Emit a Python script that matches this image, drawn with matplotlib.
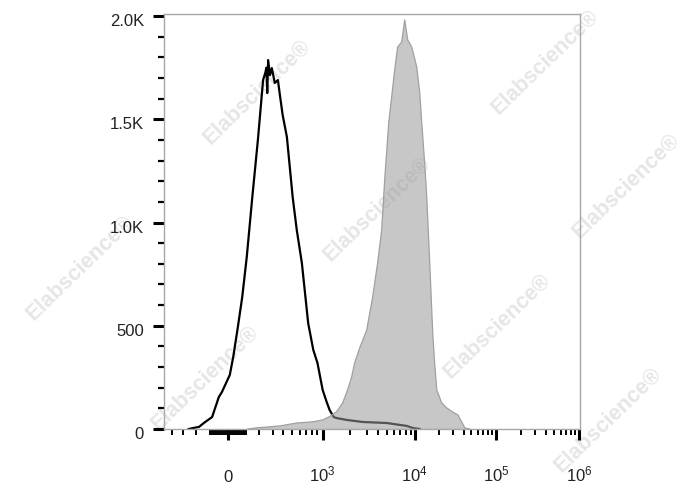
import numpy as np
import matplotlib
matplotlib.use("Agg")
import matplotlib.pyplot as plt
from matplotlib.ticker import FixedLocator, NullFormatter
from matplotlib.transforms import ScaledTranslation

# ---------------- data ----------------
black_vals = [-250, -196, -174, -137, -83, -44, -28, 11, 28, 50, 78, 107, 144, 189,
              226, 241, 250, 256, 263, 278, 293, 319, 348, 368, 397, 443, 512, 562,
              633, 735, 826, 905, 1000, 1105, 1191, 1317, 1419, 1823, 2720, 4960,
              8190, 9510, 11500]
black_counts = [0, 8, 10, 29, 58, 155, 179, 262, 349, 479, 639, 833, 1123, 1400,
                1690, 1724, 1750, 1627, 1787, 1714, 1748, 1676, 1690, 1617, 1521, 1414,
                1123, 964, 804, 513, 383, 320, 189, 131, 92, 58, 53, 44, 34, 29, 15, 5, 0]

gray_vals = [115, 181, 263, 368, 562, 826, 1000, 1191, 1419, 1650, 1866, 2066, 2228,
             2524, 3008, 3494, 3954, 4374, 4717, 5214, 5617, 6050, 6520, 7215, 7780,
             8390, 9280, 10580, 11530, 12200, 13300, 14060, 15300, 16700, 17660, 18700,
             21500, 24800, 29400, 34100, 38000, 41500, 47700]
gray_counts = [0, 6, 10, 15, 29, 35, 44, 60, 84, 126, 189, 252, 320, 392, 479, 639,
               804, 964, 1206, 1482, 1608, 1738, 1850, 1874, 1981, 1884, 1850, 1753,
               1627, 1482, 1278, 1123, 804, 455, 310, 189, 126, 102, 82, 68, 34, 5, 0]

y_ticks = [0, 500, 1000, 1500, 2000]
y_labels = ["0", "500", "1.0K", "1.5K", "2.0K"]
x_ticks = [0, 1e3, 1e4, 1e5, 1e6]
x_labels = ["0", r"$\mathregular{10^3}$", r"$\mathregular{10^4}$",
            r"$\mathregular{10^5}$", r"$\mathregular{10^6}$"]

# ---------------- biexponential-like display scale ----------------
SCALE_V = np.array([-1000, -500, -400, -300, -200, -100, 0, 100, 200, 300, 400, 500,
                    600, 700, 800, 900, 1000, 1e4, 1e5, 1e6, 1e7])
SCALE_P = np.array([-95, -64, -55.3, -45, -31.5, -18, 0, 18, 31.5, 45, 55.3, 64,
                    72, 78.4, 84.2, 89.5, 95, 187, 268, 351, 434])
SCALE_U = np.arcsinh(SCALE_V / 100.0)


def fwd(x):
    return np.interp(np.arcsinh(np.asarray(x, dtype=float) / 100.0), SCALE_U, SCALE_P)


def inv(p):
    return 100.0 * np.sinh(np.interp(np.asarray(p, dtype=float), SCALE_P, SCALE_U))


plt.rcParams["font.family"] = ["Liberation Sans", "DejaVu Sans"]
plt.rcParams["mathtext.fontset"] = "custom"
plt.rcParams["mathtext.rm"] = "Liberation Sans"

W, H = 688, 490
fig = plt.figure(figsize=(W / 100, H / 100), dpi=100)
fig.patch.set_facecolor("white")

# watermarks (behind the axes)
wm_centers = [(257, 92), (377, 209), (497, 326), (545, 62), (626, 186),
              (608, 420), (80, 268), (205, 378)]
for cx, cy in wm_centers:
    fig.text(cx / W, 1 - cy / H, "Elabscience\u00ae", rotation=44, rotation_mode="anchor",
             ha="center", va="center", fontsize=15.5, fontweight="bold",
             color="#e6e6e6", zorder=-5)

ax = fig.add_axes([163.5 / W, (H - 429) / H, (580 - 163.5) / W, (429 - 14) / H])
ax.patch.set_alpha(0)

ax.set_xscale("function", functions=(fwd, inv))

ax.plot(black_vals, black_counts, color="black", lw=1.6, zorder=2)
ax.fill_between(gray_vals, 0, gray_counts, facecolor=(0.6, 0.6, 0.6), alpha=0.55,
                edgecolor="none", zorder=3)
ax.plot(gray_vals, gray_counts, color="#a0a0a0", lw=0.9, zorder=4)

ax.set_xlim(-500, 1.03e6)
ax.set_ylim(0, 2010)

for s in ax.spines.values():
    s.set_color("#a8a8a8")
    s.set_linewidth(1.0)

# y axis ticks
ax.yaxis.set_major_locator(FixedLocator(y_ticks))
ax.set_yticklabels(y_labels)
ax.yaxis.set_minor_locator(FixedLocator([v for v in range(100, 2000, 100) if v % 500]))
ax.tick_params(axis="y", which="major", direction="out", length=8, width=2.2,
               color="black", pad=6, labelsize=12, labelcolor="#222222")
ax.tick_params(axis="y", which="minor", direction="out", length=4, width=1.6,
               color="black")
for lab in ax.get_yticklabels():
    lab.set_transform(lab.get_transform() + ScaledTranslation(0, -3 / 72, fig.dpi_scale_trans))

# x axis ticks
ax.xaxis.set_major_locator(FixedLocator(x_ticks))
ax.set_xticklabels(x_labels)
minor_x = [-400, -300, -200, -100] + [v for v in range(-90, 100, 10) if v != 0] + [100]
minor_x += [k * 100 for k in range(2, 10)]
minor_x += [k * 10 ** e for e in (3, 4, 5) for k in range(2, 10)]
ax.xaxis.set_minor_locator(FixedLocator(minor_x))
ax.xaxis.set_minor_formatter(NullFormatter())
ax.tick_params(axis="x", which="major", direction="out", length=8, width=2.2,
               color="black", pad=30, labelsize=12, labelcolor="#222222")
ax.tick_params(axis="x", which="minor", direction="out", length=4, width=1.4,
               color="black")
for lab in ax.get_xticklabels():
    lab.set_verticalalignment("baseline")

fig.savefig("out.png", dpi=100, facecolor="white")
